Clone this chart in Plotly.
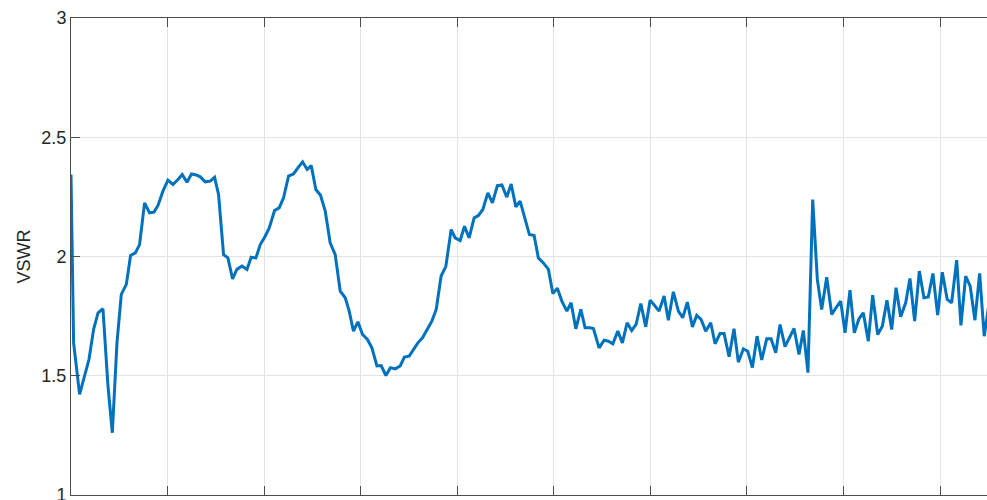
import plotly.graph_objects as go

# Frequency (tick units) and VSWR values
freq = [0.000, 0.027, 0.089, 0.186, 0.234, 0.280, 0.331, 0.383, 0.428, 0.476,
        0.521, 0.573, 0.617, 0.666, 0.710, 0.762, 0.814, 0.859, 0.901, 0.952,
        1.004, 1.056, 1.108, 1.152, 1.201, 1.248, 1.297, 1.339,
        1.390, 1.442, 1.487, 1.528, 1.580, 1.625, 1.673, 1.718, 1.770, 1.822,
        1.866, 1.915, 1.960, 2.011, 2.053, 2.108, 2.156, 2.201, 2.253, 2.304,
        2.350, 2.398, 2.446, 2.488, 2.536, 2.584, 2.633, 2.684,
        2.736, 2.788, 2.840, 2.881, 2.925, 2.971, 3.019, 3.070, 3.116, 3.168,
        3.212, 3.261, 3.308, 3.357, 3.409, 3.453, 3.502, 3.547, 3.592, 3.640,
        3.685, 3.737, 3.782, 3.833, 3.882, 3.937, 3.978, 4.030,
        4.075, 4.123, 4.175, 4.219, 4.265, 4.317, 4.364, 4.416, 4.462, 4.513,
        4.558, 4.607, 4.651, 4.703, 4.747, 4.796, 4.840, 4.892, 4.944, 4.990,
        5.037, 5.083, 5.135, 5.179, 5.228, 5.280, 5.324, 5.376,
        5.410, 5.469, 5.521, 5.565, 5.611, 5.663, 5.710, 5.759, 5.807, 5.852,
        5.901, 5.952, 5.997, 6.041, 6.090, 6.142, 6.186, 6.238, 6.290, 6.335,
        6.383, 6.435, 6.480, 6.525, 6.573, 6.625, 6.670, 6.721,
        6.763, 6.815, 6.866, 6.911, 6.963, 7.008, 7.056, 7.105, 7.153, 7.205,
        7.250, 7.298, 7.343, 7.394, 7.439, 7.488, 7.539, 7.584, 7.632, 7.681,
        7.729, 7.774, 7.826, 7.878, 7.922, 7.971, 8.016, 8.067,
        8.112, 8.160, 8.205, 8.257, 8.302, 8.354, 8.402, 8.450, 8.499, 8.544,
        8.592, 8.644, 8.688, 8.737, 8.785, 8.833, 8.878, 8.926, 8.975, 9.023,
        9.074, 9.120, 9.172, 9.216, 9.265, 9.312, 9.361, 9.410, 9.457, 9.506]

vswr = [2.344, 1.638, 1.422, 1.568, 1.694, 1.764, 1.781, 1.457, 1.261, 1.638,
        1.841, 1.883, 2.004, 2.015, 2.050, 2.225, 2.183, 2.186, 2.214, 2.274,
        2.320, 2.302, 2.323, 2.344, 2.311, 2.346, 2.342, 2.334,
        2.313, 2.316, 2.332, 2.260, 2.008, 1.994, 1.906, 1.946, 1.960, 1.946,
        1.997, 1.994, 2.050, 2.085, 2.120, 2.193, 2.204, 2.246, 2.337, 2.346,
        2.372, 2.397, 2.365, 2.381, 2.281, 2.257, 2.190, 2.057,
        2.008, 1.855, 1.827, 1.771, 1.687, 1.726, 1.673, 1.652, 1.617, 1.541,
        1.543, 1.501, 1.534, 1.529, 1.541, 1.578, 1.582, 1.608, 1.638, 1.659,
        1.694, 1.729, 1.778, 1.918, 1.959, 2.113, 2.078, 2.067,
        2.127, 2.078, 2.162, 2.172, 2.197, 2.267, 2.225, 2.297, 2.300, 2.249,
        2.304, 2.208, 2.232, 2.155, 2.092, 2.088, 1.994, 1.973, 1.946, 1.845,
        1.867, 1.813, 1.771, 1.806, 1.697, 1.778, 1.701, 1.701,
        1.698, 1.617, 1.649, 1.645, 1.634, 1.687, 1.638, 1.722, 1.690, 1.715,
        1.803, 1.705, 1.817, 1.796, 1.771, 1.834, 1.733, 1.852, 1.771, 1.743,
        1.809, 1.705, 1.753, 1.736, 1.687, 1.722, 1.634, 1.677,
        1.677, 1.580, 1.697, 1.557, 1.613, 1.603, 1.534, 1.666, 1.566, 1.655,
        1.655, 1.596, 1.715, 1.622, 1.659, 1.698, 1.589, 1.690, 1.513, 2.239,
        1.904, 1.778, 1.913, 1.757, 1.785, 1.813, 1.680, 1.859,
        1.680, 1.739, 1.764, 1.645, 1.838, 1.673, 1.708, 1.817, 1.694, 1.869,
        1.747, 1.806, 1.908, 1.729, 1.939, 1.827, 1.830, 1.929, 1.754, 1.934,
        1.820, 1.806, 1.985, 1.711, 1.918, 1.876, 1.733, 1.929, 1.666, 1.800]

y_ticks = [1, 1.5, 2, 2.5, 3]
y_tick_labels = ["1", "1.5", "2", "2.5", "3"]
x_ticks = list(range(0, 10))

axis_col = "#4d4d4d"
grid_col = "#e3e3e3"
font_fam = "Liberation Sans, Arial, Helvetica, sans-serif"

fig = go.Figure()
fig.add_trace(go.Scatter(x=freq, y=vswr, mode="lines",
                         line=dict(color="#0072BD", width=3),
                         showlegend=False))

fig.update_layout(
    width=987, height=500,
    margin=dict(l=71, r=0, t=18, b=5),
    paper_bgcolor="white", plot_bgcolor="white",
    font=dict(family=font_fam, size=18, color="#262626"),
)
fig.update_xaxes(
    range=[0, 9.486], tickvals=x_ticks, showticklabels=False,
    showgrid=True, gridcolor=grid_col, gridwidth=1,
    showline=True, linecolor=axis_col, linewidth=1, mirror="ticks",
    ticks="inside", ticklen=9, tickcolor=axis_col, zeroline=False,
    automargin=False,
)
fig.update_yaxes(
    range=[1, 3], tickvals=y_ticks, ticktext=y_tick_labels,
    showgrid=True, gridcolor=grid_col, gridwidth=1,
    showline=True, linecolor=axis_col, linewidth=1,
    ticks="inside", ticklen=9, tickcolor=axis_col, zeroline=False,
    tickfont=dict(size=18, color="#262626"), ticklabeloverflow="allow",
    automargin=False,
    title=dict(text="VSWR", font=dict(size=18, color="#262626"), standoff=6),
)

fig.write_html("out.html",
               config={"displayModeBar": False},
               post_script="document.body.style.margin='0';document.body.style.overflow='hidden';")
